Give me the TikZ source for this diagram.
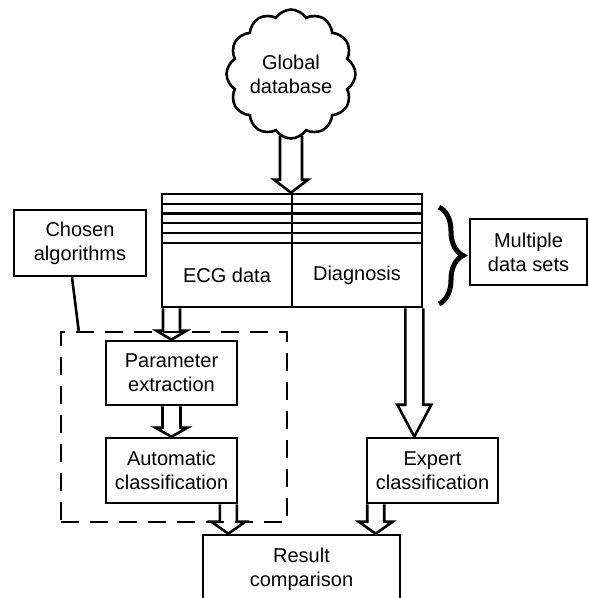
\documentclass[tikz,border=0pt]{standalone}
\usepackage{fontspec}
\setmainfont{Liberation Sans}
\usetikzlibrary{shapes.symbols,calc,decorations.pathreplacing}
\tikzset{
  lw/.style={line width=2.6pt},
  box/.style={draw, lw, rectangle, align=center, inner sep=2pt,
    font=\fontsize{20}{24}\selectfont},
  lbl/.style={align=center, font=\fontsize{20}{24}\selectfont},
  arrline/.style={draw, lw, line join=miter},
  dashedbox/.style={draw, line width=2.6pt, dash pattern=on 18pt off 11pt, rectangle, inner sep=0pt},
  bracestyle/.style={line width=5pt, decorate, decoration={brace, amplitude=24pt}},
}
\newcommand\blockarr[5]{%
  \draw[arrline] let \p1=#1, \p2=#2 in
    (\x1-#3,\y1) -- (\x1-#3,\y2+#5) -- (\x1-#4,\y2+#5) -- (\x1,\y2)
    -- (\x1+#4,\y2+#5) -- (\x1+#3,\y2+#5) -- (\x1+#3,\y1);}
\begin{document}
\begin{tikzpicture}[x=1pt,y=-1pt]
\useasboundingbox (0,0) rectangle (589,598);
% cloud
\node[cloud, draw, lw, cloud puffs=12, cloud puff arc=115, aspect=1,
      minimum width=128pt, minimum height=128pt, inner sep=0pt, lbl] (cloud) at (291,74) {Global\\database};
% table
\node[draw, lw, rectangle, minimum width=260pt, minimum height=113pt, inner sep=0pt] (table) at (292,250.5) {};
\foreach \yy in {204,213.5,223,233,243}
  \draw[lw] (table.west |- 0,\yy) -- (table.east |- 0,\yy);
\draw[lw] (table.north) -- (table.south);
\node[lbl] (ecg) at (227,275) {ECG data};
\node[lbl] (diag) at (357,275) {Diagnosis};
% brace and multiple data sets
\draw[bracestyle] (439,207) -- (439,304);
\node[box, minimum width=117pt, minimum height=66pt] (multi) at (528.5,252) {Multiple\\data sets};
% chosen algorithms
\node[box, minimum width=132pt, minimum height=66pt] (chosen) at (80,243) {Chosen\\algorithms};
% dashed group
\node[dashedbox, minimum width=226pt, minimum height=190pt] (alg) at (174,427) {};
\draw[lw] ($(chosen.south)+(-8,0)$) -- ($(alg.north west)+(19,0)$);
% process boxes
\node[box, minimum width=131pt, minimum height=64pt] (pe) at (171.5,373) {Parameter\\extraction};
\node[box, minimum width=131pt, minimum height=65pt] (ae) at (171.5,470.5) {Automatic\\classification};
\node[box, minimum width=131pt, minimum height=65pt] (ex) at (432.5,470.5) {Expert\\classification};
\node[box, minimum width=197pt, minimum height=68pt] (res) at (301.5,569) {Result\\comparison};
% block arrows
\blockarr{($(cloud.south)+(0,-4)$)}{(table.north)}{11pt}{17pt}{13pt}
\blockarr{(pe.north |- table.south)}{(pe.north)}{8.5pt}{15pt}{9pt}
\blockarr{(pe.south)}{(ae.north)}{9pt}{16pt}{9pt}
\blockarr{($(table.south east)+(-9,0)$)}{(ex.north)}{9pt}{17pt}{32pt}
\blockarr{($(ae.south east)+(-10,0)$)}{(res.north)}{8.5pt}{17pt}{12pt}
\blockarr{($(ex.south west)+(10,0)$)}{(res.north)}{8.5pt}{17pt}{12pt}
\end{tikzpicture}
\end{document}
